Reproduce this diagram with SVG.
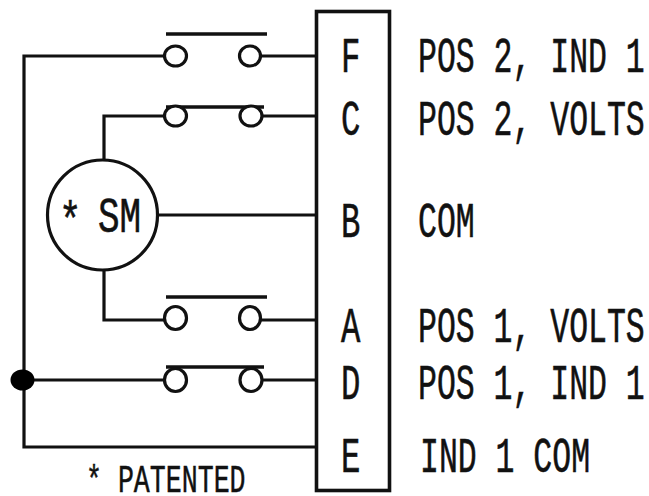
<svg xmlns="http://www.w3.org/2000/svg" width="649" height="496" viewBox="0 0 649 496">
<style>
.w{fill:none;stroke:#111;stroke-width:3.2}
.b{fill:none;stroke:#111;stroke-width:3.6}
.c{fill:#fff;stroke:#111;stroke-width:3.2}
.t{font-family:"Liberation Mono",monospace;font-size:50px;fill:#111;stroke:#111;stroke-width:.6}
.s{font-family:"Liberation Mono",monospace;font-size:38px;fill:#111;stroke:#111;stroke-width:.5}
</style>
<rect width="649" height="496" fill="#fff"/>
<g id="connectors">
<path class="w" d="M165 56H24V447H316"/>
<path class="w" d="M261 56H316"/>
<path class="w" d="M165 116H104V161"/>
<path class="w" d="M262 116H316"/>
<path class="w" d="M159 215H316"/>
<path class="w" d="M104 270V320H165"/>
<path class="w" d="M261 320H316"/>
<path class="w" d="M30 380H165"/>
<path class="w" d="M262 380H316"/>
</g>
<g id="terminal-block"><rect class="b" x="316.500" y="11.500" width="73" height="479"/></g>
<g id="motor">
<circle class="c" cx="102.500" cy="215" r="55"/>
<text class="t" transform="translate(59 236) scale(.75 1)">*</text>
<text class="t" transform="translate(98 232) scale(.72 1)">SM</text>
</g>
<g id="switch-f"><path class="b" d="M166 34H267"/><ellipse class="c" cx="175.500" cy="56" rx="11" ry="10"/><ellipse class="c" cx="250" cy="56" rx="10.500" ry="10"/></g>
<g id="switch-c"><path class="b" d="M166 107H264"/><ellipse class="c" cx="175.500" cy="116" rx="11" ry="10"/><ellipse class="c" cx="251" cy="116" rx="11" ry="10"/></g>
<g id="switch-a"><path class="b" d="M166 297H267"/><ellipse class="c" cx="175.500" cy="318" rx="11" ry="11.500"/><ellipse class="c" cx="250" cy="318" rx="10.500" ry="11.500"/></g>
<g id="switch-d"><path class="b" d="M166 367H264"/><ellipse class="c" cx="175.500" cy="380" rx="11" ry="11.500"/><ellipse class="c" cx="251" cy="380" rx="11" ry="11.500"/></g>
<g id="junction"><ellipse cx="22.500" cy="380" rx="12" ry="10.500" fill="#000"/></g>
<g id="pins">
<text class="t" transform="translate(341 72) scale(.645 1)">F</text>
<text class="t" transform="translate(341 135) scale(.645 1)">C</text>
<text class="t" transform="translate(341 237) scale(.645 1)">B</text>
<text class="t" transform="translate(341 342) scale(.645 1)">A</text>
<text class="t" transform="translate(341 399) scale(.645 1)">D</text>
<text class="t" transform="translate(341 472) scale(.645 1)">E</text>
</g>
<g id="labels">
<text class="t" transform="translate(418 72) scale(.63 1)">POS 2, IND 1</text>
<text class="t" transform="translate(418 135) scale(.63 1)">POS 2, VOLTS</text>
<text class="t" transform="translate(418 237) scale(.63 1)">COM</text>
<text class="t" transform="translate(418 342) scale(.63 1)">POS 1, VOLTS</text>
<text class="t" transform="translate(418 399) scale(.63 1)">POS 1, IND 1</text>
<text class="t" transform="translate(420 472) scale(.63 1)">IND 1 COM</text>
</g>
<g id="note"><text class="s" transform="translate(86 492) scale(.7 1)">* PATENTED</text></g>
</svg>
